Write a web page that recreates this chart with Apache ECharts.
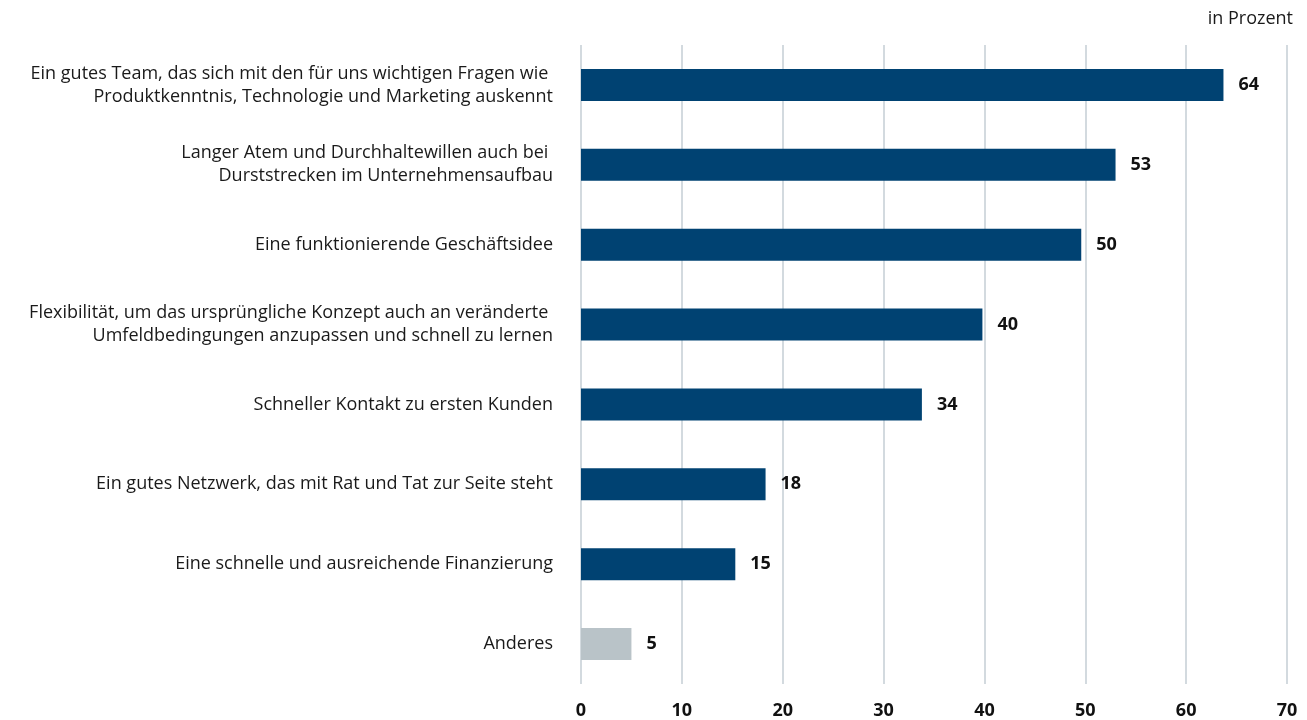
<!DOCTYPE html>
<html>
<head>
<meta charset="utf-8">
<script src="https://cdn.jsdelivr.net/npm/echarts@6/dist/echarts.min.js"></script>
<style>
html,body{margin:0;padding:0;background:#fff;}
#chart{width:1307px;height:720px;}
</style>
</head>
<body>
<div id="chart"></div>
<script>
const categories = [
  "Ein gutes Team, das sich mit den für uns wichtigen Fragen wie \nProduktkenntnis, Technologie und Marketing auskennt",
  "Langer Atem und Durchhaltewillen auch bei \nDurststrecken im Unternehmensaufbau",
  "Eine funktionierende Geschäftsidee",
  "Flexibilität, um das ursprüngliche Konzept auch an veränderte \nUmfeldbedingungen anzupassen und schnell zu lernen",
  "Schneller Kontakt zu ersten Kunden",
  "Ein gutes Netzwerk, das mit Rat und Tat zur Seite steht",
  "Eine schnelle und ausreichende Finanzierung",
  "Anderes"
];
const values = [63.7, 53.0, 49.6, 39.8, 33.8, 18.3, 15.3, 5.0];
const valueLabels = ["64", "53", "50", "40", "34", "18", "15", "5"];
const xTicks = [0, 10, 20, 30, 40, 50, 60, 70];
const unitLabel = "in Prozent";

const chart = echarts.init(document.getElementById('chart'));
const FONT = '"Open Sans", "Noto Sans", sans-serif';
chart.setOption({
  animation: false,
  textStyle: { fontFamily: FONT },
  graphic: [{
    type: 'text', right: 14, top: 10,
    style: { text: unitLabel, font: '18px ' + FONT, fill: '#1a1a1a', textAlign: 'right' }
  }],
  grid: { left: 581, right: 20, top: 45, bottom: 35, containLabel: false },
  xAxis: {
    type: 'value', min: xTicks[0], max: xTicks[xTicks.length - 1], interval: 10,
    axisLine: { show: false }, axisTick: { show: false },
    splitLine: { show: true, lineStyle: { color: '#c5ced5', width: 1.5 } },
    axisLabel: { margin: 18, fontSize: 18, fontWeight: 'bold', color: '#111', fontFamily: FONT }
  },
  yAxis: {
    type: 'category', data: categories, inverse: true,
    axisLine: { show: false }, axisTick: { show: false },
    axisLabel: { margin: 28, fontSize: 18, color: '#1a1a1a', lineHeight: 23, align: 'right', fontFamily: FONT }
  },
  series: [{
    type: 'bar', barWidth: 32,
    data: values.map((v, i) => ({
      value: v,
      itemStyle: { color: i === values.length - 1 ? '#b9c3c8' : '#004272' }
    })),
    label: {
      show: true, position: 'right', distance: 15,
      formatter: p => valueLabels[p.dataIndex],
      fontSize: 18, fontWeight: 'bold', color: '#111', fontFamily: FONT
    }
  }]
});
</script>
</body>
</html>
